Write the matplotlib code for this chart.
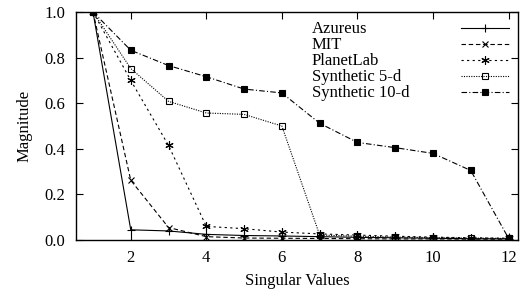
import matplotlib
matplotlib.use("Agg")
import matplotlib.pyplot as plt
from matplotlib.lines import Line2D

plt.rcParams['font.family'] = ['Liberation Serif', 'DejaVu Serif']

# singular value index and normalised magnitudes per dataset
sv_index = [1, 2, 3, 4, 5, 6, 7, 8, 9, 10, 11, 12]
azureus = [1.0, 0.045, 0.040, 0.025, 0.020, 0.018, 0.015, 0.012, 0.010, 0.008, 0.006, 0.005]
mit = [1.0, 0.262, 0.055, 0.015, 0.009, 0.008, 0.007, 0.006, 0.005, 0.005, 0.004, 0.004]
planetlab = [1.0, 0.700, 0.415, 0.060, 0.050, 0.035, 0.027, 0.022, 0.017, 0.013, 0.010, 0.008]
synth5 = [1.0, 0.752, 0.608, 0.557, 0.551, 0.500, 0.022, 0.017, 0.013, 0.011, 0.009, 0.007]
synth10 = [1.0, 0.832, 0.765, 0.716, 0.662, 0.645, 0.512, 0.428, 0.405, 0.380, 0.305, 0.008]

x_ticks = [2, 4, 6, 8, 10, 12]
y_ticks = [0.0, 0.2, 0.4, 0.6, 0.8, 1.0]

fig = plt.figure(figsize=(5.24, 2.91), dpi=100)
ax = fig.add_axes([0.145, 0.175, 0.8435, 0.784])

ms = 5
ax.plot(sv_index, azureus, color='black', lw=0.8, ls='-', marker='+',
        ms=6, mew=0.8, label='Azureus')
ax.plot(sv_index, mit, color='black', lw=0.8, ls=(0, (4, 2.5)), marker='x',
        ms=ms, mew=0.8, label='MIT')
ax.plot(sv_index, planetlab, color='black', lw=0.8, ls=(0, (2, 3)), marker=(6, 2, 0),
        ms=6, mew=0.8, label='PlanetLab')
ax.plot(sv_index, synth5, color='black', lw=0.8, ls=(0, (1, 1.2)), marker='s',
        ms=ms, mew=0.8, mfc='none', label='Synthetic 5-d')
ax.plot(sv_index, synth10, color='black', lw=0.8, ls=(0, (5, 2, 1, 2)), marker='s',
        ms=ms, mew=0.8, mfc='black', label='Synthetic 10-d')

ax.set_xlim(0.55, 12.25)
ax.set_ylim(0.0, 1.0)
ax.set_xticks(x_ticks)
ax.set_yticks(y_ticks)
ax.set_yticklabels([f"{v:.1f}" for v in y_ticks])
ax.tick_params(direction='in', top=True, right=True, length=5, width=0.8,
               labelsize=12)
ax.tick_params(axis='x', pad=7)
ax.tick_params(axis='y', pad=7.5)
for sp in ax.spines.values():
    sp.set_linewidth(1.0)

ax.set_xlabel('Singular Values', fontsize=12, labelpad=5)
ax.set_ylabel('Magnitude', fontsize=12, labelpad=9)

# gnuplot-style key: left-aligned labels, line samples on the right
handles, labels = ax.get_legend_handles_labels()
key_lines = ax.legend(handles, labels, loc='upper right', frameon=False,
                      markerfirst=False, fontsize=12, handlelength=2.9,
                      handletextpad=0.0, labelspacing=0.0, borderpad=0,
                      borderaxespad=0, bbox_to_anchor=(0.98, 0.955))
for t in key_lines.get_texts():
    t.set_visible(False)
ax.add_artist(key_lines)

blank = [Line2D([], [], linestyle='none', marker='none') for _ in labels]
ax.legend(blank, labels, loc='upper left', frameon=False, fontsize=12,
          handlelength=0, handletextpad=0, labelspacing=0.0, borderpad=0,
          borderaxespad=0, bbox_to_anchor=(0.534, 0.96))

fig.savefig('out.png', dpi=100)
plt.close(fig)
